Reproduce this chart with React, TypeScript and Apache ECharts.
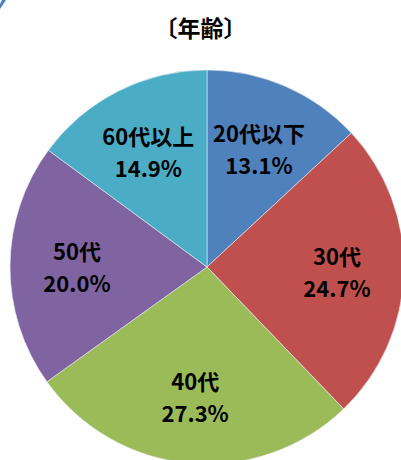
import React, { useEffect, useRef } from "react";
import * as echarts from "echarts";

const title = "〔年齢〕";
const categories = ["20代以下", "30代", "40代", "50代", "60代以上"];
const values = [13.1, 24.7, 27.3, 20.0, 14.9];
const colors = ["#4F81BD", "#C0504D", "#9BBB59", "#8064A2", "#4BACC6"];

export default function App() {
  const ref = useRef<HTMLDivElement>(null);
  useEffect(() => {
    if (!ref.current) return;
    const chart = echarts.init(ref.current, null, { renderer: "svg" });
    const data = categories.map((name, i) => ({
      name,
      value: values[i],
      itemStyle: { color: colors[i] },
    }));
    const R = 197;
    chart.setOption({
      animation: false,
      title: {
        text: title,
        left: "center",
        top: 10,
        textStyle: {
          fontSize: 23,
          fontWeight: "bold",
          color: "#000",
          fontFamily: "Noto Sans CJK JP",
        },
      },
      graphic: [
        {
          type: "polygon",
          shape: { points: [[2, 0], [6, 0], [0, 9], [0, 4]] },
          style: { fill: "#4F81BD" },
        },
      ],
      series: [
        {
          type: "pie",
          center: [207, 267],
          radius: [0, R],
          startAngle: 90,
          clockwise: true,
          silent: true,
          label: { show: false },
          labelLine: { show: false },
          itemStyle: { borderColor: "#e8eef5", borderWidth: 0.6 },
          data,
        },
        {
          type: "pie",
          center: [207, 267],
          radius: [57, R],
          startAngle: 90,
          clockwise: true,
          silent: true,
          itemStyle: { color: "rgba(0,0,0,0)" },
          label: {
            show: true,
            position: "inside",
            formatter: (p: any) => `${p.name}\n${p.value.toFixed(1)}%`,
            fontSize: 22,
            fontWeight: "bold",
            lineHeight: 32,
            color: "#000",
            fontFamily: "Noto Sans CJK JP",
          },
          labelLine: { show: false },
          data: categories.map((name, i) => ({ name, value: values[i] })),
        },
      ],
    });
    return () => chart.dispose();
  }, []);
  return (
    <div
      ref={ref}
      style={{ position: "fixed", left: 0, top: 0, width: 401, height: 460, background: "#fff" }}
    />
  );
}
